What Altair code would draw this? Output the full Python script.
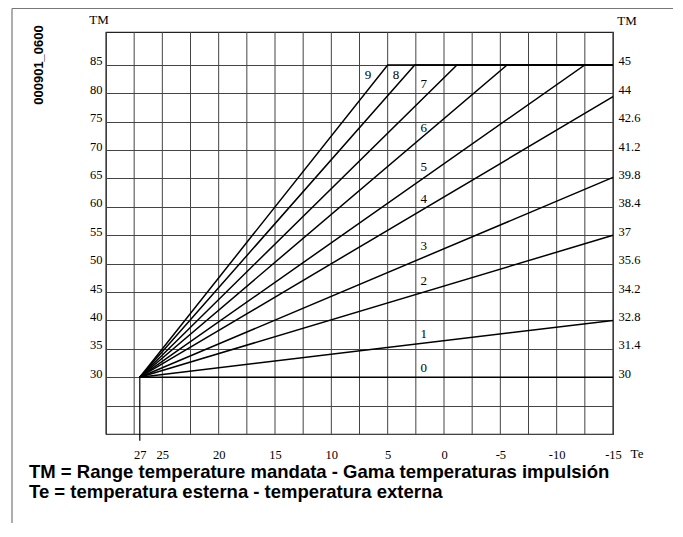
import altair as alt
import pandas as pd

# ---- data ----
te_grid = [30, 27.5, 25, 22.5, 20, 17.5, 15, 12.5, 10, 7.5, 5, 2.5, 0, -2.5, -5, -7.5, -10, -12.5, -15]
te_labels = [27, 25, 20, 15, 10, 5, 0, -5, -10, -15]
tm_grid = [20, 25, 30, 35, 40, 45, 50, 55, 60, 65, 70, 75, 80, 85]
tm_left = [30, 35, 40, 45, 50, 55, 60, 65, 70, 75, 80, 85]
tm_right = ["30", "31.4", "32.8", "34.2", "35.6", "37", "38.4", "39.8", "41.2", "42.6", "44", "45"]

curve_ids = ["0", "1", "2", "3", "4", "5", "6", "7", "8", "9"]
origin_te = 27
origin_tm = 30
end_te = [-15, -15, -15, -15, -15, -12.5, -5.6, -1.15, 2.6, 5]
end_tm = [30, 40, 55, 65.2, 79.4, 85, 85, 85, 85, 85]
max_tm = 85
min_te = -15
label_te = [1.8, 1.8, 1.8, 1.8, 1.8, 1.8, 1.8, 1.8, 4.25, 6.75]
label_tm = [31.6, 37.6, 46.9, 53.1, 61.35, 67.0, 73.85, 81.6, 83.2, 83.2]

footer = ["TM = Range temperature mandata - Gama temperaturas impulsión",
          "Te = temperatura esterna - temperatura externa"]
code_label = "000901_0600"

# ---- tables ----
rows = []
for cid, ete, etm in zip(curve_ids, end_te, end_tm):
    rows.append({"curve": cid, "step": 0, "Te": origin_te, "TM": origin_tm})
    rows.append({"curve": cid, "step": 1, "Te": ete, "TM": etm})
    if etm >= max_tm and ete > min_te:
        rows.append({"curve": cid, "step": 2, "Te": min_te, "TM": max_tm})
curves = pd.DataFrame(rows)
labels = pd.DataFrame({"curve": curve_ids, "Te": label_te, "TM": label_tm})
vgrid = pd.DataFrame({"Te": te_grid})
pin = pd.DataFrame({"Te": [origin_te], "TM": [origin_tm], "TM2": [18.8]})
one = pd.DataFrame({"a": [0]})

W, H = 507, 402
serif = "Liberation Serif"
sans = "Liberation Sans"

xscale = alt.Scale(domain=[-15, 30], reverse=True, nice=False, zero=False)
yscale = alt.Scale(domain=[20, 90.8], nice=False, zero=False)

xaxis = alt.Axis(values=te_labels, grid=False, domain=False, ticks=False, tickSize=0,
                 labelPadding=24, labelBaseline="alphabetic", labelFont=serif,
                 labelFontSize=12.5, labelColor="black", title=None,
                 labelExpr="datum.value < 0 ? '-' + abs(datum.value) : '' + datum.value",
                 labelFlush=False, labelOverlap=False)
yaxis_left = alt.Axis(values=tm_grid, grid=True, gridColor="#444444", gridWidth=1,
                      orient="left",
                      domain=False, ticks=False, tickSize=0, labelPadding=4,
                      labelBaseline="alphabetic", labelFont=serif, labelFontSize=12.5,
                      labelColor="black", title=None, format="d",
                      labelExpr="datum.value >= 30 ? datum.label : ''",
                      labelFlush=False, labelOverlap=False)

expr = "''"
for v, lab in reversed(list(zip(tm_left, tm_right))):
    expr = f"datum.value == {v} ? '{lab}' : ({expr})"
yaxis_right = alt.Axis(values=tm_left, grid=False, domain=False, ticks=False, tickSize=0,
                       labelPadding=5, labelAlign="left", labelBaseline="alphabetic",
                       labelFont=serif, labelFontSize=12.5, labelColor="black",
                       title=None, orient="right", labelExpr=expr,
                       labelFlush=False, labelOverlap=False)

X = alt.X("Te:Q", scale=xscale, axis=xaxis)

grid_v = alt.Chart(vgrid).mark_rule(color="#444444", strokeWidth=1).encode(x=X)

lines = alt.Chart(curves).mark_line(color="black", strokeWidth=1.5).encode(
    x=X, y=alt.Y("TM:Q", scale=yscale, axis=yaxis_left),
    detail="curve:N", order="step:Q")

curve_text = alt.Chart(labels).mark_text(font=serif, fontSize=13, color="black",
                                         align="center", baseline="middle").encode(
    x=X, y=alt.Y("TM:Q", scale=yscale, axis=yaxis_right), text="curve:N")

pin_rule = alt.Chart(pin).mark_rule(color="black", strokeWidth=1.2).encode(
    x=X, y=alt.Y("TM:Q", scale=yscale, axis=None), y2="TM2:Q")

def txt(s, x, y, **kw):
    return alt.Chart(pd.DataFrame({"t": [s]})).mark_text(color="black", **kw).encode(
        x=alt.value(x), y=alt.value(y), text="t:N")

tm_l = txt("TM", -7, -8, font=serif, fontSize=13, align="center", baseline="alphabetic")
tm_r = txt("TM", 521, -7, font=serif, fontSize=13, align="center", baseline="alphabetic")
te_t = txt("Te", 531, 426, font=serif, fontSize=13, align="center", baseline="alphabetic")
foot1 = txt(footer[0], -77, 446, font=sans, fontSize=18.5, fontWeight="bold",
            align="left", baseline="alphabetic")
foot2 = txt(footer[1], -77, 466, font=sans, fontSize=18.5, fontWeight="bold",
            align="left", baseline="alphabetic")
code = txt(code_label, -67, 33, font=sans, fontSize=13, fontWeight="bold",
           align="center", baseline="middle", angle=270)

border_left = alt.Chart(one).mark_rule(color="#777777", strokeWidth=1.2).encode(
    x=alt.value(-94), y=alt.value(-23.5), y2=alt.value(500))
border_top = alt.Chart(one).mark_rule(color="#777777", strokeWidth=1.2).encode(
    x=alt.value(-94), x2=alt.value(600), y=alt.value(-23.5))

chart = alt.layer(
    grid_v, lines, curve_text, pin_rule,
    tm_l, tm_r, te_t, foot1, foot2, code, border_left, border_top
).resolve_axis(y="independent").properties(
    width=W, height=H,
    padding={"left": 98, "top": 24, "right": 60, "bottom": 89},
    autosize=alt.AutoSizeParams(type="none"),
    background="white",
).configure_view(stroke="#222222", strokeWidth=1.2)

chart.save("out.html", embed_options={"renderer": "svg", "actions": False})
